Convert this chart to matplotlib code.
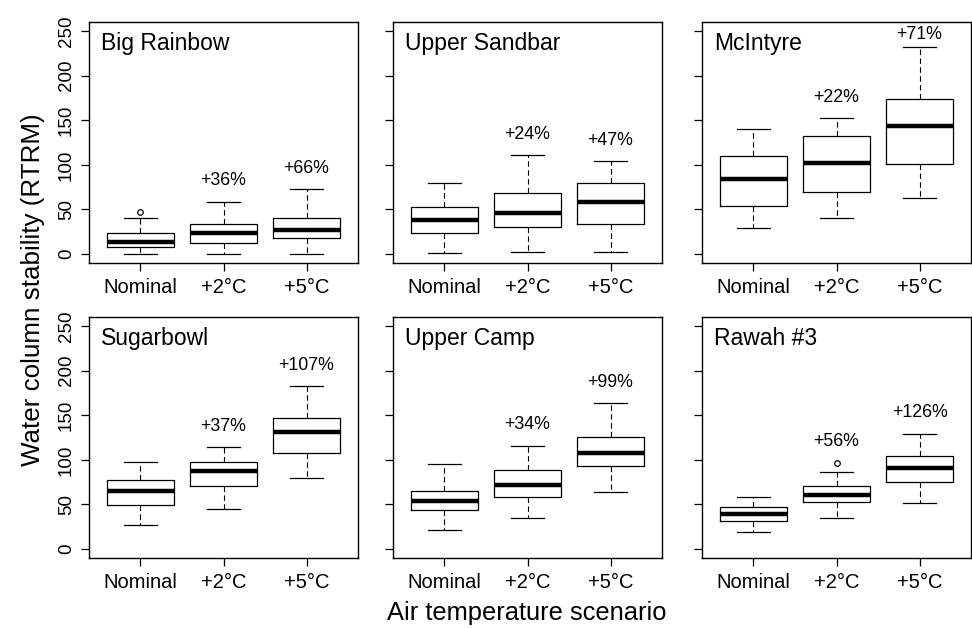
import matplotlib
matplotlib.use("Agg")
import matplotlib.pyplot as plt

plt.rcParams['font.family'] = ['Liberation Sans', 'DejaVu Sans']

scenarios = ["Nominal", "+2°C", "+5°C"]
sites = ["Big Rainbow", "Upper Sandbar", "McIntyre", "Sugarbowl", "Upper Camp", "Rawah #3"]

# five-number summaries per site: [Nominal, +2°C, +5°C]
whislo = {
    "Big Rainbow":   [0.0, 0.0, 0.0],
    "Upper Sandbar": [1.0, 1.8, 1.8],
    "McIntyre":      [29.2, 40.3, 62.5],
    "Sugarbowl":     [26.9, 45.1, 79.1],
    "Upper Camp":    [21.0, 34.4, 64.0],
    "Rawah #3":      [18.6, 34.6, 52.1],
}
q1 = {
    "Big Rainbow":   [8.2, 12.0, 17.6],
    "Upper Sandbar": [24.0, 30.4, 34.0],
    "McIntyre":      [53.6, 69.2, 101.0],
    "Sugarbowl":     [49.6, 70.9, 107.8],
    "Upper Camp":    [44.2, 58.4, 93.6],
    "Rawah #3":      [31.2, 53.2, 75.5],
}
med = {
    "Big Rainbow":   [13.5, 23.9, 26.6],
    "Upper Sandbar": [38.5, 45.5, 58.5],
    "McIntyre":      [83.6, 102.0, 143.5],
    "Sugarbowl":     [64.6, 87.7, 131.7],
    "Upper Camp":    [53.9, 71.9, 107.4],
    "Rawah #3":      [39.8, 61.0, 91.1],
}
q3 = {
    "Big Rainbow":   [23.2, 33.6, 40.7],
    "Upper Sandbar": [52.6, 68.0, 80.0],
    "McIntyre":      [109.5, 132.0, 173.8],
    "Sugarbowl":     [76.9, 97.8, 147.4],
    "Upper Camp":    [65.1, 89.1, 125.4],
    "Rawah #3":      [47.2, 70.3, 103.8],
}
whishi = {
    "Big Rainbow":   [40.7, 58.6, 72.5],
    "Upper Sandbar": [80.0, 110.7, 104.0],
    "McIntyre":      [139.8, 152.0, 231.5],
    "Sugarbowl":     [97.4, 113.8, 182.5],
    "Upper Camp":    [95.0, 116.0, 163.5],
    "Rawah #3":      [58.4, 86.3, 129.1],
}
fliers = {
    "Big Rainbow":   [[47.4], [], []],
    "Upper Sandbar": [[], [], []],
    "McIntyre":      [[], [], []],
    "Sugarbowl":     [[], [], []],
    "Upper Camp":    [[], [], []],
    "Rawah #3":      [[], [96.7], []],
}
pct_labels = {
    "Big Rainbow":   ["", "+36%", "+66%"],
    "Upper Sandbar": ["", "+24%", "+47%"],
    "McIntyre":      ["", "+22%", "+71%"],
    "Sugarbowl":     ["", "+37%", "+107%"],
    "Upper Camp":    ["", "+34%", "+99%"],
    "Rawah #3":      ["", "+56%", "+126%"],
}
yticks = [0, 50, 100, 150, 200, 250]

W, H = 972, 628
fig = plt.figure(figsize=(W / 100, H / 100), dpi=100)

col_left = [89, 393, 702]
row_top = [22, 317]
aw, ah = 269, 241

for i, site in enumerate(sites):
    r, c = divmod(i, 3)
    left = col_left[c] / W
    bottom = 1 - (row_top[r] + ah) / H
    ax = fig.add_axes([left, bottom, aw / W, ah / H])
    stats = []
    for k in range(3):
        stats.append(dict(whislo=whislo[site][k], q1=q1[site][k], med=med[site][k],
                          q3=q3[site][k], whishi=whishi[site][k], fliers=fliers[site][k]))
    pos = [1, 2, 3]
    ax.bxp(stats, positions=pos, widths=0.8, capwidths=0.4, showfliers=True,
           boxprops=dict(color='black', linewidth=0.9),
           medianprops=dict(color='black', linewidth=3.2, solid_capstyle='butt'),
           whiskerprops=dict(color='black', linewidth=0.8, linestyle=(0, (5, 3))),
           capprops=dict(color='black', linewidth=0.9),
           flierprops=dict(marker='o', markersize=4, markerfacecolor='none',
                           markeredgecolor='black', markeredgewidth=0.9))
    for k in range(3):
        lab = pct_labels[site][k]
        if lab:
            top = max([whishi[site][k]] + fliers[site][k])
            yy = min(top + 23.5, 246)
            ax.text(pos[k], yy, lab, ha='center', va='center', fontsize=12.8)
    ax.set_xlim(0.38, 3.62)
    ax.set_ylim(-10, 260)
    ax.set_xticks(pos)
    ax.set_xticklabels(scenarios, fontsize=14.5)
    ax.set_yticks(yticks)
    if c == 0:
        ax.set_yticklabels([str(v) for v in yticks], fontsize=13.5, rotation=90, va='center')
    else:
        ax.set_yticklabels([])
    ax.tick_params(axis='x', direction='out', length=6, width=0.9, pad=5)
    ax.tick_params(axis='y', direction='out', length=6, width=0.9, pad=4)
    for sp in ax.spines.values():
        sp.set_linewidth(1.0)
        sp.set_color('black')
    ax.text(0.0435, 0.909, site, transform=ax.transAxes, ha='left', va='center', fontsize=16.5)

fig.text(33 / W, 1 - 290 / H, "Water column stability (RTRM)", rotation=90,
         ha='center', va='center', fontsize=18.7)
fig.text(527 / W, 1 - 620 / H, "Air temperature scenario", ha='center', va='baseline',
         fontsize=18.4)

fig.savefig("out.png", dpi=100)
